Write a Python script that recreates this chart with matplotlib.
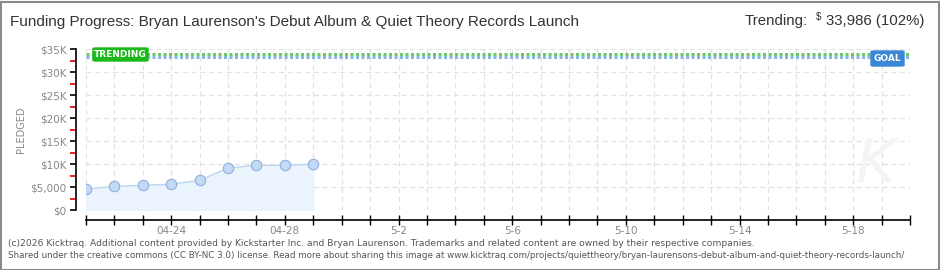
import matplotlib
matplotlib.use("Agg")
import matplotlib.pyplot as plt
from matplotlib.patches import FancyBboxPatch, Rectangle

# data (day index 0 = 04-21)
days = [0, 1, 2, 3, 4, 5, 6, 7, 8]
pledged = [4510, 5160, 5380, 5600, 6470, 9150, 9740, 9740, 10000]
goal = 33320
trending = 33986
tick_days = [3, 7, 11, 15, 19, 23, 27]
tick_labels = ["04-24", "04-28", "5-2", "5-6", "5-10", "5-14", "5-18"]
y_ticks = [0, 5000, 10000, 15000, 20000, 25000, 30000, 35000]
y_labels = ["$0", "$5,000", "$10K", "$15K", "$20K", "$25K", "$30K", "$35K"]

title = "Funding Progress: Bryan Laurenson's Debut Album & Quiet Theory Records Launch"
footer1 = ("(c)2026 Kicktraq. Additional content provided by Kickstarter Inc. and Bryan Laurenson. "
           "Trademarks and related content are owned by their respective companies.")
footer2 = ("Shared under the creative commons (CC BY-NC 3.0) license. Read more about sharing this image at "
           "www.kicktraq.com/projects/quiettheory/bryan-laurensons-debut-album-and-quiet-theory-records-launch/")

W, H = 940, 270
fig = plt.figure(figsize=(W / 100, H / 100), dpi=100)
fig.patch.set_facecolor("white")

# outer frame
fig.patches.append(Rectangle((0.5 / W, 0.5 / H), 1 - 2 / W, 1 - 2 / H, transform=fig.transFigure,
                             fill=False, edgecolor="#8a8a8a", linewidth=1.5))

head = ["Liberation Sans", "DejaVu Sans"]

fig.text(10 / W, 1 - 22 / H, title, fontsize=11, family=head, color="#333333", va="center")
fig.text(808 / W, 1 - 21 / H, "Trending:", fontsize=10.8, family=head, color="#333333",
         va="center", ha="right")
fig.text(816 / W, 1 - 22 / H, "$", fontsize=7, family=head, color="#333333", va="bottom")
fig.text(924 / W, 1 - 21 / H, "33,986 (102%)", fontsize=10.8, family=head, color="#333333",
         va="center", ha="right")

fig.text(8 / W, 1 - 243 / H, footer1, fontsize=6.6, color="#555555", va="center")
fig.text(8 / W, 1 - 256 / H, footer2, fontsize=6.3, color="#555555", va="center")

left, right = 86 / W, 910 / W
bottom, top = 1 - 210 / H, 1 - 49.3 / H
ax = fig.add_axes([left, bottom, right - left, top - bottom])
ax.set_xlim(0, 29)
ax.set_ylim(0, 35000)
ax.set_facecolor("white")

# grid
for d in range(0, 30):
    ax.axvline(d, color="#e2e2e2", lw=0.9, ls=(0, (4, 3)), zorder=0)
for v in y_ticks:
    ax.axhline(v, color="#e2e2e2", lw=0.9, ls=(0, (4, 3)), zorder=0)

# pledged area
ax.fill_between(days, pledged, 0, color="#ebf3fc", zorder=1)
ax.plot(days, pledged, color="#bcd6f2", lw=1.0, zorder=2)
ax.plot(days, pledged, "o", ms=7.5, mfc="#c2daf6", mec="#8fb0d8", mew=0.8, zorder=3)

# trending / goal lines
ax.axhline(trending, color="#6cc86c", lw=2.2, ls=(0, (1, 0.8)), zorder=2)
ax.axhline(goal, color="#88b6ea", lw=2.2, ls=(0, (1, 0.8)), zorder=2)

# labels on the lines
def tag(x0, x1, ytop, ybot, text, color):
    inv = ax.transAxes.inverted()
    x_a, y_a = inv.transform(fig.transFigure.transform((x0 / W, 1 - ybot / H)))
    x_b, y_b = inv.transform(fig.transFigure.transform((x1 / W, 1 - ytop / H)))
    ax.add_patch(FancyBboxPatch((x_a, y_a), x_b - x_a, y_b - y_a, transform=ax.transAxes,
                                boxstyle="round,pad=0,rounding_size=0.004", facecolor=color,
                                edgecolor=color, clip_on=False, zorder=5))
    ax.text((x_a + x_b) / 2, (y_a + y_b) / 2, text, transform=ax.transAxes, color="white",
            fontsize=6.5, fontweight="bold", ha="center", va="center", zorder=6, clip_on=False)

tag(93, 148, 48, 61, "TRENDING", "#1db81d")
tag(871, 904, 51, 66, "GOAL", "#3b87d6")

# axes styling
for s in ["top", "right"]:
    ax.spines[s].set_visible(False)
ax.spines["left"].set_position(("outward", 7.2))
ax.spines["bottom"].set_position(("outward", 7.2))
ax.spines["left"].set_linewidth(1.2)
ax.spines["bottom"].set_linewidth(1.2)

ax.set_yticks(y_ticks)
ax.set_yticklabels(y_labels)
ax.set_yticks([v + 2500 for v in y_ticks[:-1]], minor=True)
ax.tick_params(axis="y", which="major", length=4, width=1.2, color="black", labelsize=7.5,
               labelcolor="#888888", pad=3)
ax.tick_params(axis="y", which="minor", length=4, width=1.2, color="#dd0000")

ax.set_xticks(range(0, 30), minor=True)
ax.set_xticks(tick_days)
ax.set_xticklabels(tick_labels)
ax.tick_params(axis="x", which="both", direction="inout", length=7, width=1.0, color="black",
               labelsize=7.5, labelcolor="#888888", pad=1)

fig.text(21 / W, 1 - 130 / H, "PLEDGED", fontsize=7, color="#888888", rotation=90,
         ha="center", va="center")

# faint watermark
fig.text(875 / W, 1 - 165 / H, "K", fontsize=44, style="italic", color="#f4f4f4",
         ha="center", va="center", zorder=0)

fig.savefig("out.png", dpi=100)
